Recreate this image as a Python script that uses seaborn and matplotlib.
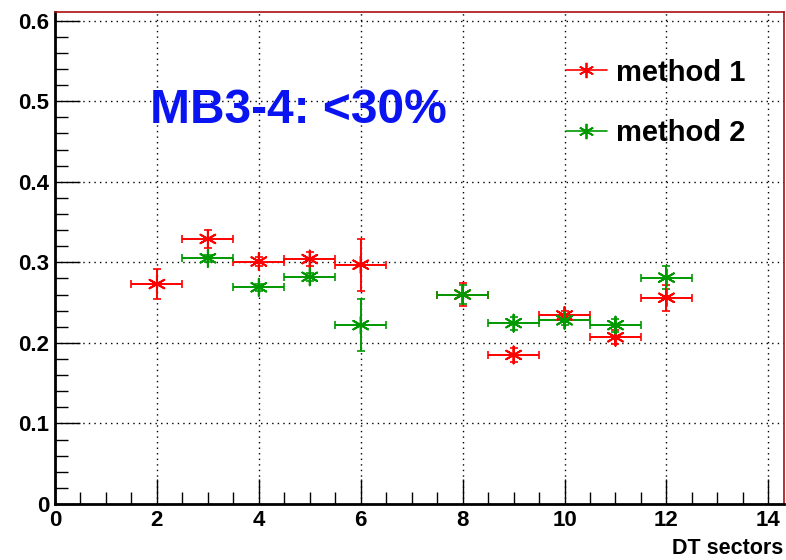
import numpy as np
import pandas as pd
import matplotlib
matplotlib.use("Agg")
import matplotlib.pyplot as plt
import seaborn as sns
from matplotlib.lines import Line2D
from matplotlib.ticker import MultipleLocator

sns.set_theme(style="white")
plt.rcParams['font.family'] = ['Liberation Sans', 'DejaVu Sans']
plt.rcParams['text.color'] = 'black'
plt.rcParams['axes.labelcolor'] = 'black'
plt.rcParams['xtick.color'] = 'black'
plt.rcParams['ytick.color'] = 'black'

# data
sectors_m1 = [2, 3, 4, 5, 6, 8, 9, 10, 11, 12]
eff_m1 = [0.273, 0.329, 0.301, 0.304, 0.297, 0.260, 0.185, 0.234, 0.207, 0.256]
err_m1 = [0.019, 0.011, 0.005, 0.009, 0.032, 0.014, 0.009, 0.006, 0.009, 0.016]

sectors_m2 = [3, 4, 5, 6, 8, 9, 10, 11, 12]
eff_m2 = [0.305, 0.269, 0.282, 0.222, 0.260, 0.2245, 0.228, 0.222, 0.281]
err_m2 = [0.004, 0.004, 0.005, 0.032, 0.012, 0.008, 0.006, 0.008, 0.014]

xhalf = 0.5
labels = ["method 1", "method 2"]
colors = ["#ff0000", "#009900"]

df = pd.concat([
    pd.DataFrame({"sector": sectors_m1, "eff": eff_m1, "err": err_m1, "method": labels[0]}),
    pd.DataFrame({"sector": sectors_m2, "eff": eff_m2, "err": err_m2, "method": labels[1]}),
])

fig = plt.figure(figsize=(7.86, 5.6), dpi=100)
ax = fig.add_axes([0.070, 0.10, 0.927, 0.879])

star = (6, 2, 0)
for lab, col in zip(labels, colors):
    d = df[df.method == lab]
    ax.errorbar(d.sector, d.eff, xerr=xhalf, yerr=d.err, fmt='none',
                ecolor=col, elinewidth=1.4, capsize=3, capthick=1.2, zorder=3)
sns.scatterplot(data=df, x="sector", y="eff", hue="method", palette=colors,
                marker=star, s=150, linewidth=1.4, edgecolor=None, ax=ax,
                legend=False, zorder=4)

ax.set_xlim(0, 14.3)
ax.set_ylim(0, 0.611)
ax.xaxis.set_major_locator(MultipleLocator(2))
ax.xaxis.set_minor_locator(MultipleLocator(0.5))
ax.yaxis.set_major_locator(MultipleLocator(0.1))
ax.yaxis.set_minor_locator(MultipleLocator(0.02))
ax.yaxis.set_major_formatter(matplotlib.ticker.FuncFormatter(lambda v, p: "0" if abs(v) < 1e-9 else f"{v:.1f}"))
ax.tick_params(axis='both', which='major', direction='in', length=18, width=1,
               labelsize=16, colors='black', pad=4)
ax.tick_params(axis='both', which='minor', direction='in', length=9, width=1)
ax.tick_params(bottom=True, left=True, top=False, right=False, which='both')
for t in ax.get_xticklabels() + ax.get_yticklabels():
    t.set_fontweight('bold')
ax.grid(True, which='major', color='black', linestyle=(0, (1, 3)), linewidth=1)
ax.set_xlabel("DT sectors", fontsize=15.5, fontweight='bold', loc='right', labelpad=5, color='black')
ax.set_ylabel("")

for s in ['left', 'bottom']:
    ax.spines[s].set_color('black')
    ax.spines[s].set_linewidth(2)
for s in ['top', 'right']:
    ax.spines[s].set_color('#aa1111')
    ax.spines[s].set_linewidth(1.2)

ax.text(0.130, 0.80, "MB3-4: <30%", transform=ax.transAxes, color='#0a14f0',
        fontsize=34.5, fontweight='bold', va='center', ha='left')

handles = [Line2D([0], [0], color=c, lw=1.2, marker=star, markersize=11,
                  markeredgewidth=1.3) for c in colors]
leg = ax.legend(handles, labels, loc='upper right', bbox_to_anchor=(0.983, 0.958),
                frameon=False, prop={'size': 21, 'weight': 'bold'},
                handlelength=1.4, labelspacing=1.1, handletextpad=0.3)
for t in leg.get_texts():
    t.set_color('black')

fig.savefig("out.png", dpi=100)
